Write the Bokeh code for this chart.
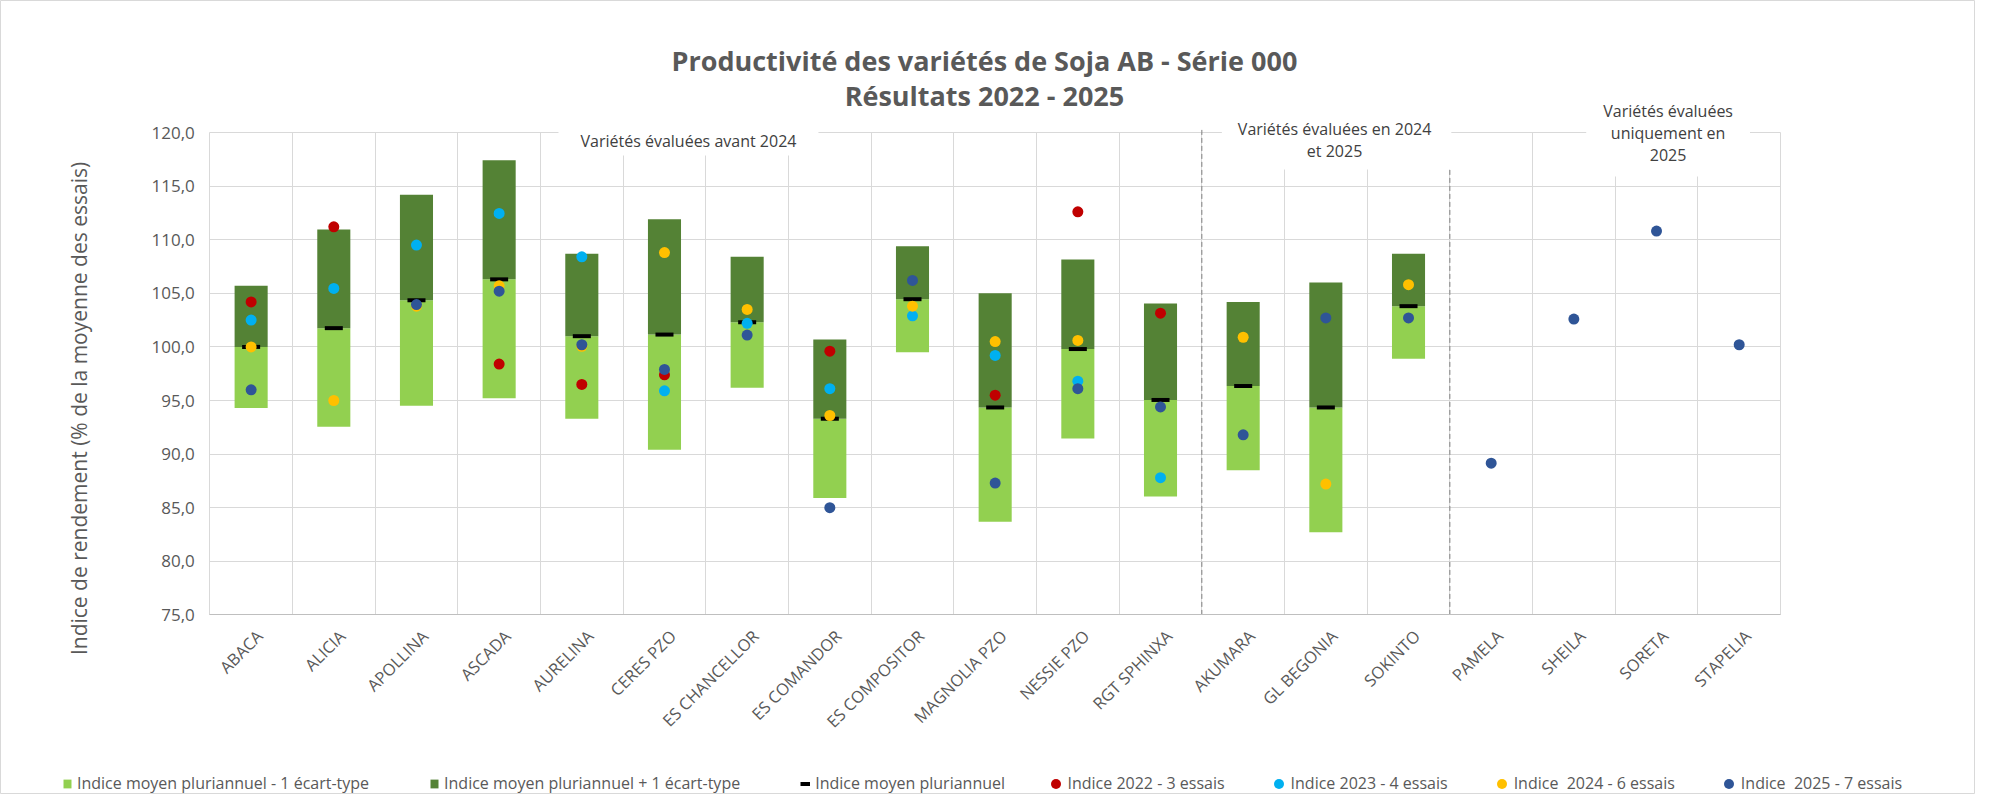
import math
from bokeh.plotting import figure
from bokeh.models import (Range1d, ColumnDataSource, FixedTicker,
                          CustomJSTickFormatter, Label, Legend, LegendItem)
from bokeh.embed import file_html
from bokeh.resources import INLINE

nan = float("nan")

# ---------------- data ----------------
varietes = ["ABACA", "ALICIA", "APOLLINA", "ASCADA", "AURELINA", "CERES PZO",
            "ES CHANCELLOR", "ES COMANDOR", "ES COMPOSITOR", "MAGNOLIA PZO",
            "NESSIE PZO", "RGT SPHINXA", "AKUMARA", "GL BEGONIA", "SOKINTO",
            "PAMELA", "SHEILA", "SORETA", "STAPELIA"]

moyenne = [100.0, 101.75, 104.35, 106.3, 101.0, 101.15, 102.3, 93.3, 104.45,
           94.35, 99.8, 95.05, 96.35, 94.35, 103.8, nan, nan, nan, nan]
ecart_type = [5.7, 9.2, 9.85, 11.1, 7.7, 10.75, 6.1, 7.4, 4.95,
              10.65, 8.35, 9.0, 7.85, 11.65, 4.9, nan, nan, nan, nan]

indice_2022 = [104.2, 111.2, nan, 98.4, 96.5, 97.4, nan, 99.6, nan,
               95.5, 112.6, 103.15, nan, nan, nan, nan, nan, nan, nan]
indice_2023 = [102.5, 105.45, 109.5, 112.45, 108.4, 95.9, 102.2, 96.1, 102.9,
               99.2, 96.8, 87.8, nan, nan, nan, nan, nan, nan, nan]
indice_2024 = [100.0, 95.0, 103.8, 105.7, 100.05, 108.8, 103.5, 93.6, 103.8,
               100.5, 100.6, nan, 100.9, 87.2, 105.8, nan, nan, nan, nan]
indice_2025 = [96.0, nan, 103.95, 105.2, 100.2, 97.9, 101.1, 85.0, 106.2,
               87.3, 96.1, 94.4, 91.8, 102.7, 102.7, 89.15, 102.6, 110.8, 100.2]

y_ticks = [75, 80, 85, 90, 95, 100, 105, 110, 115, 120]

groupes = ["Variétés évaluées avant 2024",
           "Variétés évaluées en 2024\net 2025",
           "Variétés évaluées\nuniquement en\n2025"]
taille_groupes = [12, 3, 4]

titre_1 = "Productivité des variétés de Soja AB - Série 000"
titre_2 = "Résultats 2022 - 2025"
y_label = "Indice de rendement (% de la moyenne des essais)"

noms_legende = ["Indice moyen pluriannuel - 1 écart-type",
                "Indice moyen pluriannuel + 1 écart-type",
                "Indice moyen pluriannuel",
                "Indice 2022 - 3 essais",
                "Indice 2023 - 4 essais",
                "Indice  2024 - 6 essais",
                "Indice  2025 - 7 essais"]

# ---------------- styles / layout ----------------
VERT_CLAIR = "#92D050"
VERT_FONCE = "#548235"
ROUGE = "#C00000"
CYAN = "#00B0F0"
JAUNE = "#FFC000"
BLEU = "#2F5597"
GRIS_TXT = "#595959"
GRID = "#d9d9d9"
FONT = "Open Sans"

W, H = 1975, 794
PX_X = 82.67          # pixels per category
PX_Y = 10.72          # pixels per index point
X0_CANVAS = 209.3     # canvas x of the first category boundary
Y120_CANVAS = 132.0   # canvas y of the 120 gridline

x_lo = -X0_CANVAS / PX_X
x_hi = x_lo + W / PX_X
y_hi = 120 + Y120_CANVAS / PX_Y
y_lo = y_hi - H / PX_Y

n = len(varietes)
xs = [i + 0.5 for i in range(n)]
bas = [m - s for m, s in zip(moyenne, ecart_type)]
haut = [m + s for m, s in zip(moyenne, ecart_type)]
half = 0.109
src = ColumnDataSource(dict(
    x=xs, moyenne=moyenne, bas=bas, haut=haut,
    x0=[x - half for x in xs], x1=[x + half for x in xs],
    i2022=indice_2022, i2023=indice_2023, i2024=indice_2024, i2025=indice_2025,
))

p = figure(x_range=Range1d(x_lo, x_hi), y_range=Range1d(y_lo, y_hi),
           width=W, height=H, output_backend="svg", toolbar_location=None,
           min_border=0, background_fill_color="white", border_fill_color="white")
p.outline_line_color = GRID

# grids limited to the plotting area
p.ygrid.ticker = FixedTicker(ticks=y_ticks)
p.ygrid.grid_line_color = GRID
p.xgrid.ticker = FixedTicker(ticks=list(range(0, n + 1)))
p.xgrid.grid_line_color = GRID
if "cross_bounds" in p.xgrid[0].properties():
    p.xgrid.cross_bounds = (75, 120)
    p.ygrid.cross_bounds = (0, n)
    p.xgrid.bounds = (0, n)
    p.ygrid.bounds = (75, 120)
else:
    p.xgrid.visible = False
    p.ygrid.visible = False
    p.segment(x0=[0] * len(y_ticks), x1=[n] * len(y_ticks), y0=y_ticks, y1=y_ticks,
              line_color=GRID, line_width=1)
    p.segment(x0=list(range(n + 1)), x1=list(range(n + 1)), y0=[75] * (n + 1),
              y1=[120] * (n + 1), line_color=GRID, line_width=1)

# y axis (bounds extended downward so the axis title sits lower, as in the reference)
p.yaxis.fixed_location = 0
p.yaxis.bounds = (68.5, 120)
p.yaxis.ticker = FixedTicker(ticks=y_ticks)
p.yaxis.formatter = CustomJSTickFormatter(code="return tick.toFixed(1).replace('.', ',');")
p.yaxis.axis_line_color = None
p.yaxis.major_tick_line_color = None
p.yaxis.minor_tick_line_color = None
p.yaxis.major_label_text_font = FONT
p.yaxis.major_label_text_font_size = "17px"
p.yaxis.major_label_text_color = GRIS_TXT
p.yaxis.major_label_standoff = 9
p.yaxis.axis_label = y_label
p.yaxis.axis_label_text_font = FONT
p.yaxis.axis_label_text_font_size = "21px"
p.yaxis.axis_label_text_font_style = "normal"
p.yaxis.axis_label_text_color = GRIS_TXT
p.yaxis.axis_label_standoff = 55

# x axis (categories); labels anchored slightly right of the centre, as Excel does
lab_off = 0.1
xt = [x + lab_off for x in xs]
p.xaxis.fixed_location = 75
p.xaxis.bounds = (0, n)
p.xaxis.ticker = FixedTicker(ticks=xt)
p.xaxis.major_label_overrides = {x: v for x, v in zip(xt, varietes)}
p.xaxis.major_label_orientation = math.pi / 4
p.xaxis.major_tick_line_color = None
p.xaxis.minor_tick_line_color = None
p.xaxis.axis_line_color = "#bfbfbf"
p.xaxis.major_label_text_font = FONT
p.xaxis.major_label_text_font_size = "16.5px"
p.xaxis.major_label_text_color = GRIS_TXT
p.xaxis.major_label_standoff = 12

# group separators (dashed)
sep = []
acc = 0
for k in taille_groupes[:-1]:
    acc += k
    sep.append(acc)
p.segment(x0=sep, x1=sep, y0=[75] * len(sep), y1=[120.4] * len(sep),
          line_color="#808080", line_dash="5 3", line_width=1)

# bars
r_bas = p.vbar(x="x", bottom="bas", top="moyenne", width=0.4, source=src,
               fill_color=VERT_CLAIR, line_color=None)
r_haut = p.vbar(x="x", bottom="moyenne", top="haut", width=0.4, source=src,
                fill_color=VERT_FONCE, line_color=None)
r_moy = p.segment(x0="x0", y0="moyenne", x1="x1", y1="moyenne", source=src,
                  line_color="black", line_width=4)

r22 = p.scatter(x="x", y="i2022", size=11, source=src, fill_color=ROUGE, line_color=None)
r23 = p.scatter(x="x", y="i2023", size=11, source=src, fill_color=CYAN, line_color=None)
r24 = p.scatter(x="x", y="i2024", size=11, source=src, fill_color=JAUNE, line_color=None)
r25 = p.scatter(x="x", y="i2025", size=11, source=src, fill_color=BLEU, line_color=None)

# group labels (white boxes over the gridlines)
grp_pos = [(5.79, 119.25, dict(left=22, right=22, top=4, bottom=4)),
           (13.63, 119.34, dict(left=16, right=20, top=8, bottom=8)),
           (17.64, 119.86, dict(left=17, right=17, top=8, bottom=11))]
for txt, (gx, gy, pad) in zip(groupes, grp_pos):
    p.add_layout(Label(x=gx, y=gy, text=txt, text_font=FONT, text_font_size="16px",
                       text_color="#404040", text_align="center", text_baseline="middle",
                       text_line_height=1.0, background_fill_color="white",
                       padding=pad))

# title
p.add_layout(Label(x=9.37, y=126.75, text=titre_1, text_font=FONT, text_font_size="27px",
                   text_font_style="bold", text_color=GRIS_TXT, text_align="center",
                   text_baseline="middle"))
p.add_layout(Label(x=9.37, y=123.45, text=titre_2, text_font=FONT, text_font_size="27px",
                   text_font_style="bold", text_color=GRIS_TXT, text_align="center",
                   text_baseline="middle"))

# legends
common = dict(orientation="horizontal", label_text_font=FONT, label_text_font_size="16px",
              label_text_color=GRIS_TXT, padding=0, margin=0, border_line_color=None,
              background_fill_alpha=0)
leg1 = Legend(items=[LegendItem(label=noms_legende[0], renderers=[r_bas]),
                     LegendItem(label=noms_legende[1], renderers=[r_haut]),
                     LegendItem(label=noms_legende[2], renderers=[r_moy])],
              location=(62.0, 0), glyph_width=10, glyph_height=11,
              label_standoff=5, spacing=60, **common)
leg2 = Legend(items=[LegendItem(label=noms_legende[3], renderers=[r22]),
                     LegendItem(label=noms_legende[4], renderers=[r23]),
                     LegendItem(label=noms_legende[5], renderers=[r24]),
                     LegendItem(label=noms_legende[6], renderers=[r25])],
              location=(1042.5, -1.5), glyph_width=25, glyph_height=25,
              label_standoff=0, spacing=41, **common)
p.add_layout(leg1)
p.add_layout(leg2)

open("out.html", "w").write(file_html(p, INLINE))
